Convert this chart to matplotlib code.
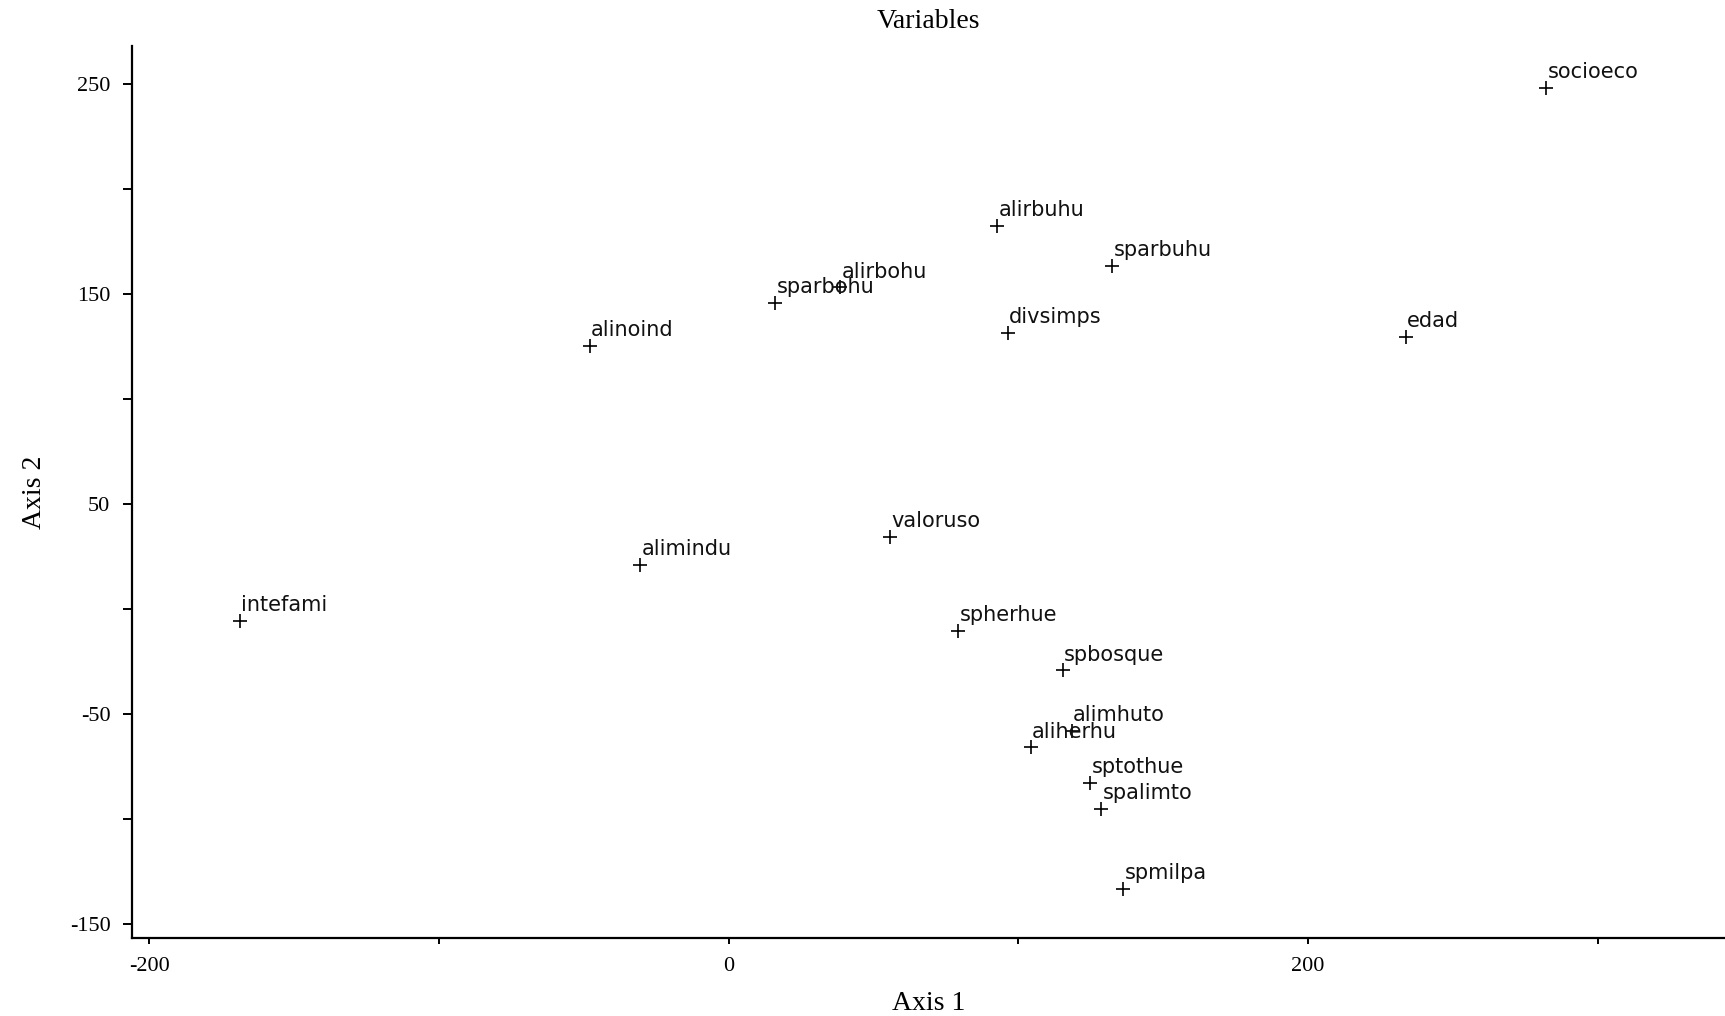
import matplotlib
matplotlib.use("Agg")
import matplotlib.pyplot as plt

# coordinates of each variable on the first two axes
names = [
    "socioeco", "alirbuhu", "sparbuhu", "alirbohu", "sparbohu", "divsimps",
    "edad", "alinoind", "valoruso", "alimindu", "intefami", "spherhue",
    "spbosque", "alimhuto", "aliherhu", "sptothue", "spalimto", "spmilpa",
]
axis1 = [282.2, 92.8, 132.4, 38.5, 16.1, 96.4,
         233.8, -48.0, 55.6, -30.6, -168.7, 79.3,
         115.3, 118.4, 104.3, 124.8, 128.6, 136.2]
axis2 = [248.0, 182.4, 163.5, 153.1, 145.7, 131.6,
         129.5, 125.3, 34.1, 21.0, -5.7, -10.5,
         -29.3, -58.2, -66.0, -82.8, -95.4, -133.6]

xticks = [-200, -100, 0, 100, 200, 300]
xticklabels = ["-200", "", "0", "", "200", ""]
yticks = [-150, -100, -50, 0, 50, 100, 150, 200, 250]
yticklabels = ["-150", "", "-50", "", "50", "", "150", "", "250"]

serif = "Liberation Serif"

fig = plt.figure(figsize=(17.25, 10.16), dpi=100)
ax = fig.add_axes([0.0765, 0.0765, 0.9235, 0.878])

ax.plot(axis1, axis2, linestyle="none", marker="+", color="black",
        markersize=9.5, markeredgewidth=1.2)
for name, x, y in zip(names, axis1, axis2):
    ax.annotate(name, (x, y), xytext=(1, 7), textcoords="offset points",
                ha="left", va="baseline", fontsize=15, color="#111111",
                family="DejaVu Sans")

ax.set_xlim(-206, 344)
ax.set_ylim(-157, 268)
ax.set_xticks(xticks)
ax.set_xticklabels(xticklabels, family=serif, fontsize=16)
ax.set_yticks(yticks)
ax.set_yticklabels(yticklabels, family=serif, fontsize=16)

for side in ("top", "right"):
    ax.spines[side].set_visible(False)
for side in ("left", "bottom"):
    ax.spines[side].set_linewidth(1.6)
ax.tick_params(axis="y", direction="out", length=6.5, width=1.4, pad=9)
ax.tick_params(axis="x", direction="out", length=4.3, width=1.4, pad=9)

ax.set_title("Variables", family=serif, fontsize=20, pad=13)
ax.set_xlabel("Axis 1", family=serif, fontsize=20, labelpad=11)
ax.set_ylabel("Axis 2", family=serif, fontsize=20, labelpad=16)

fig.savefig("out.png", dpi=100)
